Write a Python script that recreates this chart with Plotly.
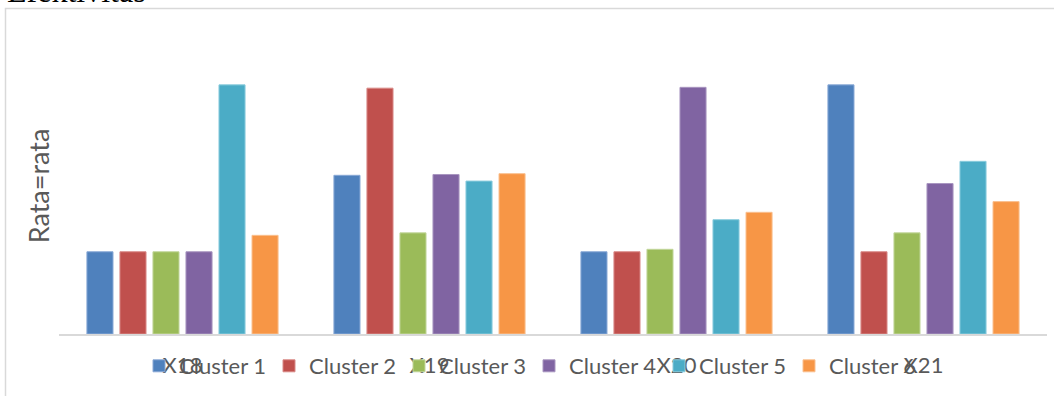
import plotly.graph_objects as go

# Average score per item, one list per cluster
categories = ["X18", "X19", "X20", "X21"]
cluster_names = ["Cluster 1", "Cluster 2", "Cluster 3", "Cluster 4", "Cluster 5", "Cluster 6"]
cluster_1 = [1.00, 1.93, 1.00, 3.03]
cluster_2 = [1.00, 2.99, 1.00, 1.00]
cluster_3 = [1.00, 1.23, 1.03, 1.23]
cluster_4 = [1.00, 1.94, 3.00, 1.83]
cluster_5 = [3.03, 1.86, 1.39, 2.10]
cluster_6 = [1.20, 1.95, 1.48, 1.61]
chart_title = "Efektivitas"
y_title = "Rata=rata"

series = [cluster_1, cluster_2, cluster_3, cluster_4, cluster_5, cluster_6]
colors = ["#4F81BD", "#C0504D", "#9BBB59", "#8064A2", "#4BACC6", "#F79646"]
edges = ["#8AA9D6", "#D98A88", "#C2D69B", "#A996C0", "#8ACCDD", "#FAC090"]

W, H = 1054, 396
L, R, T, B = 59, 7, 38, 62
FONT = "Lato"
GREY = "#595959"

fig = go.Figure()
for name, vals, col, edge in zip(cluster_names, series, colors, edges):
    fig.add_trace(go.Bar(
        name=name, x=categories, y=vals,
        marker=dict(color=col, line=dict(color=edge, width=1)),
    ))

pw = W - L - R
ph = H - T - B

fig.update_layout(
    width=W, height=H,
    margin=dict(l=L, r=R, t=T, b=B, autoexpand=False),
    paper_bgcolor="white", plot_bgcolor="white",
    barmode="group", bargap=0.198, bargroupgap=0.21,
    font=dict(family=FONT, color=GREY, size=22),
    showlegend=True,
    legend=dict(
        orientation="h", x=(139 - L) / pw, xanchor="left",
        y=-(366 - (T + ph)) / ph, yanchor="middle",
        entrywidth=85, entrywidthmode="pixels",
        itemwidth=30, font=dict(family=FONT, color=GREY, size=22),
        bgcolor="rgba(0,0,0,0)", traceorder="normal",
    ),
    xaxis=dict(
        showline=True, linecolor="#D9D9D9", linewidth=1.5,
        showgrid=False, zeroline=False, ticks="",
        ticklabelstandoff=11, automargin=False,
        tickfont=dict(family=FONT, color=GREY, size=22),
    ),
    yaxis=dict(
        range=[0, 3.6], showgrid=False, zeroline=False, showline=False,
        showticklabels=False, ticks="", automargin=False,
        title=dict(text=y_title, standoff=0,
                   font=dict(family=FONT, color=GREY, size=27)),
    ),
)

# Chart frame
fig.add_shape(
    type="rect", xref="paper", yref="paper",
    x0=(5.5 - L) / pw, x1=(W + 20 - L) / pw,
    y0=-(H + 20 - (T + ph)) / ph, y1=((T + ph) - 8.5) / ph,
    line=dict(color="#D9D9D9", width=1.5), fillcolor="rgba(0,0,0,0)",
    layer="below",
)

# Chart title, mostly above the top edge of the page
fig.add_annotation(
    text=chart_title, xref="paper", yref="paper",
    x=(5 - L) / pw, xanchor="left",
    y=((T + ph) - 11) / ph, yanchor="bottom",
    showarrow=False,
    font=dict(family="Liberation Serif", color="black", size=32),
)

fig.write_html("out.html")
